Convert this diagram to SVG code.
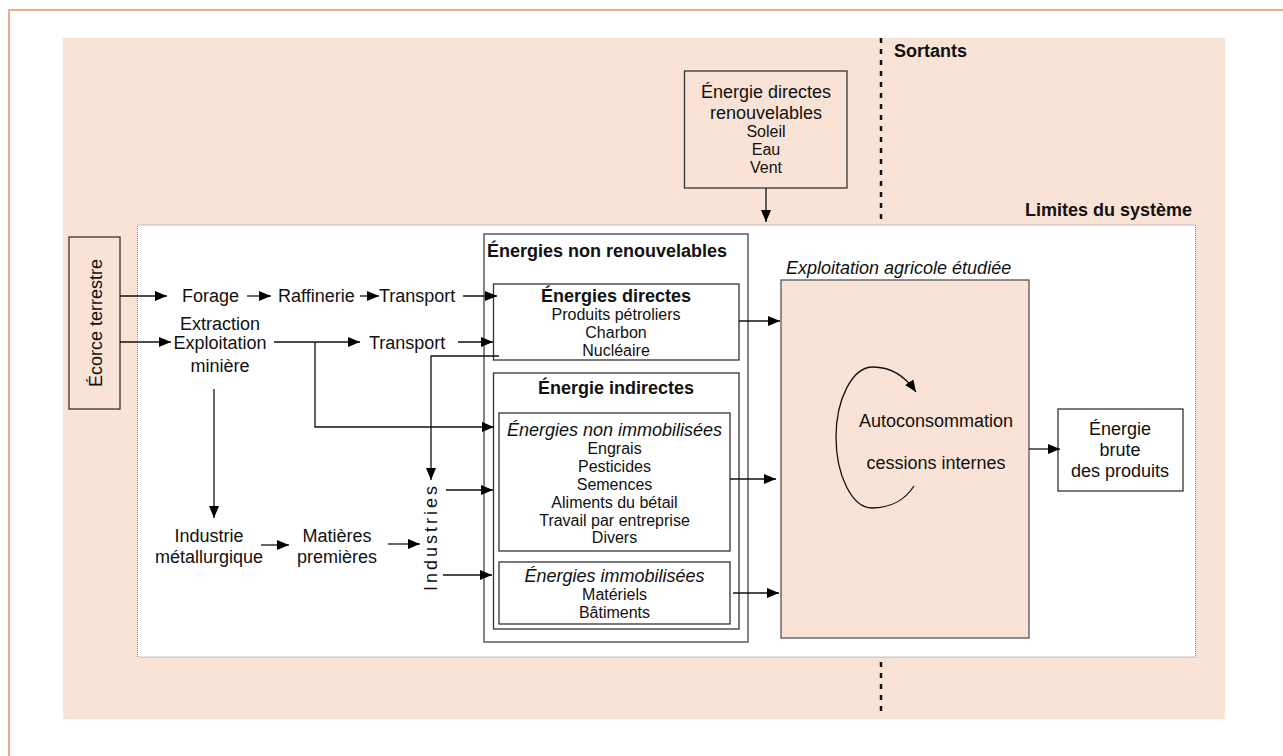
<svg xmlns="http://www.w3.org/2000/svg" width="1283" height="756" viewBox="0 0 1283 756">
<defs>
<style>
text{font-family:"Liberation Sans",Arial,sans-serif;fill:#111}
.t18{font-size:18px}
.t16{font-size:16px}
.b{font-weight:bold}
.i{font-style:italic}
.m{text-anchor:middle}
.e{text-anchor:end}
.box{fill:none;stroke:#333;stroke-width:1.3}
.wbox{fill:#fff;stroke:#333;stroke-width:1.3}
.pbox{fill:#F9E3D6;stroke:#555;stroke-width:1.3}
.conn line,.conn polyline,.conn path{fill:none;stroke:#111;stroke-width:1.3;marker-end:url(#ah)}
</style>
<marker id="ah" viewBox="0 0 12 10" refX="12" refY="5" markerWidth="12" markerHeight="10" markerUnits="userSpaceOnUse" orient="auto">
<path d="M0,0 L12,5 L0,10 z" fill="#000"/>
</marker>
</defs>
<rect x="0" y="0" width="1283" height="756" fill="#fff"/>
<g id="frame">
<path d="M9,756 L9,10 L1283,10" fill="none" stroke="#F2A98A" stroke-width="2"/>
<rect x="63" y="38" width="1162" height="681" fill="#F9E3D6"/>
</g>
<g id="limites">
<rect x="137.5" y="225" width="1058" height="432" fill="#fff" stroke="#888" stroke-width="1" stroke-dasharray="1 1"/>
<text class="t18 b e" x="1192" y="216">Limites du système</text>
</g>
<g id="sortants">
<line x1="881" y1="38" x2="881" y2="224" stroke="#111" stroke-width="2.5" stroke-dasharray="5 6"/>
<line x1="881" y1="662" x2="881" y2="714" stroke="#111" stroke-width="2.5" stroke-dasharray="5 6"/>
<text class="t18 b" x="894" y="57">Sortants</text>
</g>
<g id="ecorce">
<rect class="box" x="69" y="237" width="51" height="172"/>
<text class="t18 m" transform="translate(102,323) rotate(-90)">Écorce terrestre</text>
</g>
<g id="renouvelables">
<rect class="box" x="684.5" y="71" width="162.5" height="117"/>
<text class="t18 m" x="766" y="98">Énergie directes</text>
<text class="t18 m" x="766" y="119">renouvelables</text>
<text class="t16 m" x="766" y="137">Soleil</text>
<text class="t16 m" x="766" y="155">Eau</text>
<text class="t16 m" x="766" y="173">Vent</text>
</g>
<g id="forage"><text class="t18" x="182" y="302">Forage</text></g>
<g id="raffinerie"><text class="t18" x="278" y="302">Raffinerie</text></g>
<g id="transport1"><text class="t18" x="379" y="302">Transport</text></g>
<g id="extraction">
<text class="t18 m" x="220" y="330">Extraction</text>
<text class="t18 m" x="220" y="349">Exploitation</text>
<text class="t18 m" x="220" y="372">minière</text>
</g>
<g id="transport2"><text class="t18" x="369" y="349">Transport</text></g>
<g id="industrie">
<text class="t18 m" x="209" y="542">Industrie</text>
<text class="t18 m" x="209" y="563">métallurgique</text>
</g>
<g id="matieres">
<text class="t18 m" x="337" y="542">Matières</text>
<text class="t18 m" x="337" y="563">premières</text>
</g>
<g id="industries">
<text class="t18 m" transform="translate(437,537) rotate(-90)" letter-spacing="3">Industries</text>
</g>
<g id="non-renouvelables">
<rect x="484" y="234" width="264" height="408" fill="none" stroke="#666" stroke-width="1.6"/>
<text class="t18 b" x="487" y="257">Énergies non renouvelables</text>
</g>
<g id="directes">
<rect class="box" x="493.5" y="284" width="245.5" height="76"/>
<text class="t18 b m" x="616" y="302">Énergies directes</text>
<text class="t16 m" x="616" y="320">Produits pétroliers</text>
<text class="t16 m" x="616" y="338">Charbon</text>
<text class="t16 m" x="616" y="356">Nucléaire</text>
</g>
<g id="indirectes">
<rect class="box" x="493.5" y="373" width="245.5" height="256"/>
<text class="t18 b m" x="616" y="394">Énergie indirectes</text>
</g>
<g id="non-immobilisees">
<rect class="box" x="499" y="413" width="231" height="138"/>
<text class="t18 i m" x="614.5" y="436">Énergies non immobilisées</text>
<text class="t16 m" x="614.5" y="454">Engrais</text>
<text class="t16 m" x="614.5" y="472">Pesticides</text>
<text class="t16 m" x="614.5" y="490">Semences</text>
<text class="t16 m" x="614.5" y="508">Aliments du bétail</text>
<text class="t16 m" x="614.5" y="526">Travail par entreprise</text>
<text class="t16 m" x="614.5" y="543">Divers</text>
</g>
<g id="immobilisees">
<rect class="box" x="499" y="562" width="231" height="62"/>
<text class="t18 i m" x="614.5" y="582">Énergies immobilisées</text>
<text class="t16 m" x="614.5" y="600">Matériels</text>
<text class="t16 m" x="614.5" y="618">Bâtiments</text>
</g>
<g id="exploitation">
<text class="t18 i" x="786" y="274">Exploitation agricole étudiée</text>
<rect class="pbox" x="781" y="280" width="248" height="358"/>
<text class="t18 m" x="936" y="427">Autoconsommation</text>
<text class="t18 m" x="936" y="469">cessions internes</text>
</g>
<g id="energie-brute">
<rect class="wbox" x="1058" y="409" width="125" height="82"/>
<text class="t18 m" x="1120" y="435">Énergie</text>
<text class="t18 m" x="1120" y="456">brute</text>
<text class="t18 m" x="1120" y="477">des produits</text>
</g>
<g id="connectors" class="conn">
<line x1="120" y1="296" x2="167" y2="296"/>
<line x1="247" y1="296" x2="271" y2="296"/>
<line x1="360" y1="296" x2="379" y2="296"/>
<line x1="463" y1="296" x2="497" y2="296"/>
<line x1="120" y1="342" x2="171" y2="342"/>
<line x1="274" y1="342" x2="360" y2="342"/>
<line x1="458" y1="342" x2="493" y2="342"/>
<polyline points="315,342 315,427 494,427"/>
<polyline points="499,356 431,356 431,480"/>
<line x1="214" y1="389" x2="214" y2="518"/>
<line x1="261" y1="545" x2="289" y2="545"/>
<line x1="388" y1="544" x2="420" y2="544"/>
<line x1="446" y1="490" x2="493" y2="490"/>
<line x1="443" y1="575" x2="492" y2="575"/>
<line x1="739" y1="321" x2="780" y2="321"/>
<line x1="730" y1="479" x2="776" y2="479"/>
<line x1="733" y1="593" x2="779" y2="593"/>
<line x1="766" y1="188" x2="766" y2="222"/>
<line x1="1029" y1="449" x2="1060" y2="449"/>
<path d="M914,486 C905,500 890,508 872,508 C852,508 836,475 836,437 C836,400 852,367 873,367 C890,367 905,376 916,392"/>
</g>
</svg>
